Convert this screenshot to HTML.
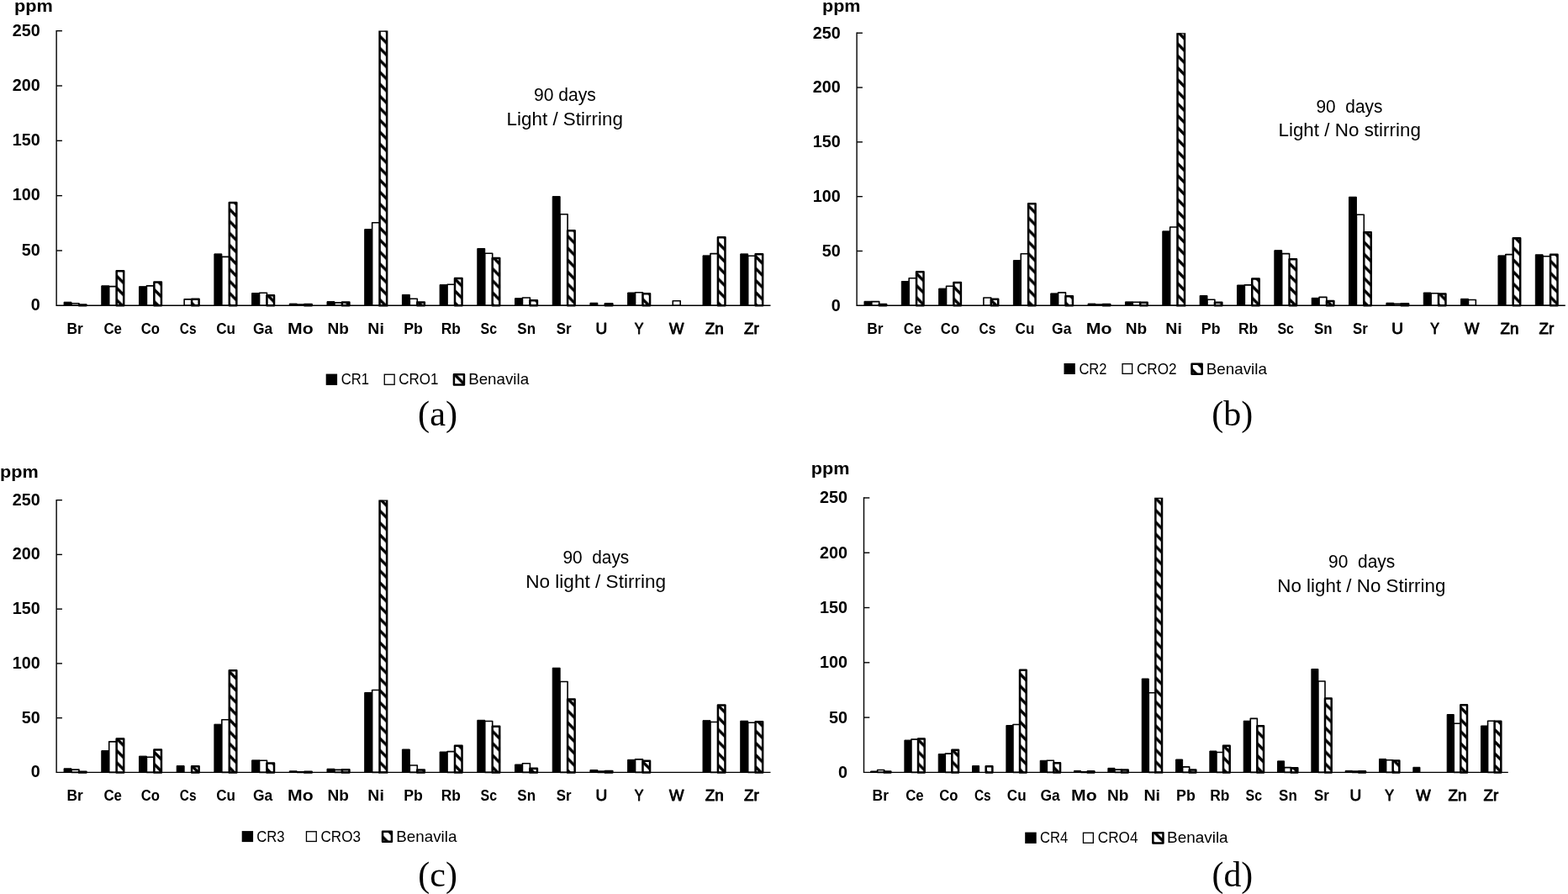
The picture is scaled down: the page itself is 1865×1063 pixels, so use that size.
<!DOCTYPE html>
<html lang="en">
<head>
<meta charset="utf-8">
<title>Trace element concentrations (ppm) after 90 days</title>
<style>
html,body{margin:0;padding:0;background:#fff;}
body{width:1865px;height:1063px;overflow:hidden;}
svg{display:block;}
text{fill:#000;white-space:pre;}
</style>
</head>
<body>
<svg width="1865" height="1063" viewBox="0 0 1865 1063">
<rect width="1865" height="1063" fill="#fff"/>
<g id="chart-a">
<defs><pattern id="ha" patternUnits="userSpaceOnUse" width="14.24" height="14.24" patternTransform="translate(0 4.3)"><rect width="14.24" height="14.24" fill="#fff"/><path d="M-15 -15L30 30M-15 -29.24L30 15.76M-15 -0.76L30 44.24" stroke="#000" stroke-width="3.5"/></pattern><clipPath id="cpa"><rect x="67.15" y="36.6" width="854.35" height="331.6"/></clipPath></defs>
<rect x="76.09" y="359.2" width="8.94" height="4.1" fill="#000" stroke="#000" stroke-width="1" stroke-linejoin="round"/>
<rect x="85.03" y="360.8" width="8.94" height="2.5" fill="#fff" stroke="#000" stroke-width="1.6" stroke-linejoin="round"/>
<rect x="93.97" y="362.45" width="8.54" height="0.85" fill="url(#ha)" stroke="#000" stroke-width="2.5" stroke-linejoin="round"/>
<rect x="120.79" y="339.8" width="8.94" height="23.5" fill="#000" stroke="#000" stroke-width="1" stroke-linejoin="round"/>
<rect x="129.73" y="340.6" width="8.94" height="22.7" fill="#fff" stroke="#000" stroke-width="1.6" stroke-linejoin="round"/>
<rect x="138.67" y="322.25" width="8.54" height="41.05" fill="url(#ha)" stroke="#000" stroke-width="2.5" stroke-linejoin="round"/>
<rect x="165.5" y="340.7" width="8.94" height="22.6" fill="#000" stroke="#000" stroke-width="1" stroke-linejoin="round"/>
<rect x="174.44" y="339.9" width="8.94" height="23.4" fill="#fff" stroke="#000" stroke-width="1.6" stroke-linejoin="round"/>
<rect x="183.38" y="335.55" width="8.54" height="27.75" fill="url(#ha)" stroke="#000" stroke-width="2.5" stroke-linejoin="round"/>
<rect x="219.14" y="355.9" width="8.94" height="7.4" fill="#fff" stroke="#000" stroke-width="1.6" stroke-linejoin="round"/>
<rect x="228.08" y="355.65" width="8.54" height="7.65" fill="url(#ha)" stroke="#000" stroke-width="2.5" stroke-linejoin="round"/>
<rect x="254.9" y="301.9" width="8.94" height="61.4" fill="#000" stroke="#000" stroke-width="1" stroke-linejoin="round"/>
<rect x="263.84" y="305.4" width="8.94" height="57.9" fill="#fff" stroke="#000" stroke-width="1.6" stroke-linejoin="round"/>
<rect x="272.78" y="241.05" width="8.54" height="122.25" fill="url(#ha)" stroke="#000" stroke-width="2.5" stroke-linejoin="round"/>
<rect x="299.6" y="348.5" width="8.94" height="14.8" fill="#000" stroke="#000" stroke-width="1" stroke-linejoin="round"/>
<rect x="308.54" y="348.3" width="8.94" height="15" fill="#fff" stroke="#000" stroke-width="1.6" stroke-linejoin="round"/>
<rect x="317.48" y="351.35" width="8.54" height="11.95" fill="url(#ha)" stroke="#000" stroke-width="2.5" stroke-linejoin="round"/>
<rect x="344.31" y="361.1" width="8.94" height="2.2" fill="#000" stroke="#000" stroke-width="1" stroke-linejoin="round"/>
<rect x="353.25" y="362.1" width="8.94" height="1.2" fill="#fff" stroke="#000" stroke-width="1.6" stroke-linejoin="round"/>
<rect x="362.19" y="362.05" width="8.54" height="1.25" fill="url(#ha)" stroke="#000" stroke-width="2.5" stroke-linejoin="round"/>
<rect x="389.01" y="358.6" width="8.94" height="4.7" fill="#000" stroke="#000" stroke-width="1" stroke-linejoin="round"/>
<rect x="397.95" y="359.9" width="8.94" height="3.4" fill="#fff" stroke="#000" stroke-width="1.6" stroke-linejoin="round"/>
<rect x="406.89" y="359.55" width="8.54" height="3.75" fill="url(#ha)" stroke="#000" stroke-width="2.5" stroke-linejoin="round"/>
<rect x="433.71" y="272.6" width="8.94" height="90.7" fill="#000" stroke="#000" stroke-width="1" stroke-linejoin="round"/>
<rect x="442.65" y="264.7" width="8.94" height="98.6" fill="#fff" stroke="#000" stroke-width="1.6" stroke-linejoin="round"/>
<rect x="451.59" y="36.6" width="8.54" height="326.7" fill="url(#ha)" stroke="#000" stroke-width="2.5" clip-path="url(#cpa)"/>
<rect x="478.41" y="350.4" width="8.94" height="12.9" fill="#000" stroke="#000" stroke-width="1" stroke-linejoin="round"/>
<rect x="487.35" y="355.3" width="8.94" height="8" fill="#fff" stroke="#000" stroke-width="1.6" stroke-linejoin="round"/>
<rect x="496.3" y="359.55" width="8.54" height="3.75" fill="url(#ha)" stroke="#000" stroke-width="2.5" stroke-linejoin="round"/>
<rect x="523.12" y="338.6" width="8.94" height="24.7" fill="#000" stroke="#000" stroke-width="1" stroke-linejoin="round"/>
<rect x="532.06" y="338.3" width="8.94" height="25" fill="#fff" stroke="#000" stroke-width="1.6" stroke-linejoin="round"/>
<rect x="541" y="330.95" width="8.54" height="32.35" fill="url(#ha)" stroke="#000" stroke-width="2.5" stroke-linejoin="round"/>
<rect x="567.82" y="295.5" width="8.94" height="67.8" fill="#000" stroke="#000" stroke-width="1" stroke-linejoin="round"/>
<rect x="576.76" y="301.3" width="8.94" height="62" fill="#fff" stroke="#000" stroke-width="1.6" stroke-linejoin="round"/>
<rect x="585.7" y="306.95" width="8.54" height="56.35" fill="url(#ha)" stroke="#000" stroke-width="2.5" stroke-linejoin="round"/>
<rect x="612.52" y="354.7" width="8.94" height="8.6" fill="#000" stroke="#000" stroke-width="1" stroke-linejoin="round"/>
<rect x="621.46" y="354" width="8.94" height="9.3" fill="#fff" stroke="#000" stroke-width="1.6" stroke-linejoin="round"/>
<rect x="630.4" y="357.35" width="8.54" height="5.95" fill="url(#ha)" stroke="#000" stroke-width="2.5" stroke-linejoin="round"/>
<rect x="657.22" y="233.6" width="8.94" height="129.7" fill="#000" stroke="#000" stroke-width="1" stroke-linejoin="round"/>
<rect x="666.17" y="254.7" width="8.94" height="108.6" fill="#fff" stroke="#000" stroke-width="1.6" stroke-linejoin="round"/>
<rect x="675.11" y="274.35" width="8.54" height="88.95" fill="url(#ha)" stroke="#000" stroke-width="2.5" stroke-linejoin="round"/>
<rect x="701.93" y="360.2" width="8.94" height="3.1" fill="#000" stroke="#000" stroke-width="1" stroke-linejoin="round"/>
<rect x="719.81" y="361.15" width="8.54" height="2.15" fill="url(#ha)" stroke="#000" stroke-width="2.5" stroke-linejoin="round"/>
<rect x="746.63" y="348" width="8.94" height="15.3" fill="#000" stroke="#000" stroke-width="1" stroke-linejoin="round"/>
<rect x="755.57" y="347.7" width="8.94" height="15.6" fill="#fff" stroke="#000" stroke-width="1.6" stroke-linejoin="round"/>
<rect x="764.51" y="349.25" width="8.54" height="14.05" fill="url(#ha)" stroke="#000" stroke-width="2.5" stroke-linejoin="round"/>
<rect x="800.27" y="357.8" width="8.94" height="5.5" fill="#fff" stroke="#000" stroke-width="1.6" stroke-linejoin="round"/>
<rect x="836.04" y="303.9" width="8.94" height="59.4" fill="#000" stroke="#000" stroke-width="1" stroke-linejoin="round"/>
<rect x="844.98" y="301.6" width="8.94" height="61.7" fill="#fff" stroke="#000" stroke-width="1.6" stroke-linejoin="round"/>
<rect x="853.92" y="282.25" width="8.54" height="81.05" fill="url(#ha)" stroke="#000" stroke-width="2.5" stroke-linejoin="round"/>
<rect x="880.74" y="301.9" width="8.94" height="61.4" fill="#000" stroke="#000" stroke-width="1" stroke-linejoin="round"/>
<rect x="889.68" y="304.2" width="8.94" height="59.1" fill="#fff" stroke="#000" stroke-width="1.6" stroke-linejoin="round"/>
<rect x="898.62" y="302.25" width="8.54" height="61.05" fill="url(#ha)" stroke="#000" stroke-width="2.5" stroke-linejoin="round"/>
<path d="M67.15 36 V363.3 H916.5" fill="none" stroke="#000" stroke-width="1.4"/>
<path d="M67.15 297.98 h6.8" stroke="#000" stroke-width="1.4"/>
<path d="M67.15 232.66 h6.8" stroke="#000" stroke-width="1.4"/>
<path d="M67.15 167.34 h6.8" stroke="#000" stroke-width="1.4"/>
<path d="M67.15 102.02 h6.8" stroke="#000" stroke-width="1.4"/>
<path d="M67.15 36.7 h6.8" stroke="#000" stroke-width="1.4"/>
</g>
<rect x="387.7" y="444.6" width="13.4" height="13.3" fill="#000"/>
<rect x="457.27" y="445.27" width="11.87" height="11.97" fill="#fff" stroke="#000" stroke-width="1.33"/>
<rect x="539.95" y="445.15" width="12" height="12.4" fill="url(#ha)" stroke="#000" stroke-width="2.5" stroke-linejoin="round"/>
<g id="chart-b">
<defs><pattern id="hb" patternUnits="userSpaceOnUse" width="14.24" height="14.24" patternTransform="translate(0 4.2)"><rect width="14.24" height="14.24" fill="#fff"/><path d="M-15 -15L30 30M-15 -29.24L30 15.76M-15 -0.76L30 44.24" stroke="#000" stroke-width="3.5"/></pattern><clipPath id="cpb"><rect x="1019.1" y="39.15" width="847.7" height="329.05"/></clipPath></defs>
<rect x="1027.97" y="358.3" width="8.87" height="5" fill="#000" stroke="#000" stroke-width="1" stroke-linejoin="round"/>
<rect x="1036.84" y="358.6" width="8.87" height="4.7" fill="#fff" stroke="#000" stroke-width="1.6" stroke-linejoin="round"/>
<rect x="1045.71" y="362.05" width="8.47" height="1.25" fill="url(#hb)" stroke="#000" stroke-width="2.5" stroke-linejoin="round"/>
<rect x="1072.32" y="334.5" width="8.87" height="28.8" fill="#000" stroke="#000" stroke-width="1" stroke-linejoin="round"/>
<rect x="1081.19" y="330.8" width="8.87" height="32.5" fill="#fff" stroke="#000" stroke-width="1.6" stroke-linejoin="round"/>
<rect x="1090.06" y="323.25" width="8.47" height="40.05" fill="url(#hb)" stroke="#000" stroke-width="2.5" stroke-linejoin="round"/>
<rect x="1116.68" y="343.1" width="8.87" height="20.2" fill="#000" stroke="#000" stroke-width="1" stroke-linejoin="round"/>
<rect x="1125.55" y="340.2" width="8.87" height="23.1" fill="#fff" stroke="#000" stroke-width="1.6" stroke-linejoin="round"/>
<rect x="1134.42" y="336.05" width="8.47" height="27.25" fill="url(#hb)" stroke="#000" stroke-width="2.5" stroke-linejoin="round"/>
<rect x="1169.9" y="354" width="8.87" height="9.3" fill="#fff" stroke="#000" stroke-width="1.6" stroke-linejoin="round"/>
<rect x="1178.77" y="355.85" width="8.47" height="7.45" fill="url(#hb)" stroke="#000" stroke-width="2.5" stroke-linejoin="round"/>
<rect x="1205.38" y="309.6" width="8.87" height="53.7" fill="#000" stroke="#000" stroke-width="1" stroke-linejoin="round"/>
<rect x="1214.25" y="301.7" width="8.87" height="61.6" fill="#fff" stroke="#000" stroke-width="1.6" stroke-linejoin="round"/>
<rect x="1223.12" y="242.15" width="8.47" height="121.15" fill="url(#hb)" stroke="#000" stroke-width="2.5" stroke-linejoin="round"/>
<rect x="1249.73" y="348.9" width="8.87" height="14.4" fill="#000" stroke="#000" stroke-width="1" stroke-linejoin="round"/>
<rect x="1258.6" y="347.9" width="8.87" height="15.4" fill="#fff" stroke="#000" stroke-width="1.6" stroke-linejoin="round"/>
<rect x="1267.47" y="352.15" width="8.47" height="11.15" fill="url(#hb)" stroke="#000" stroke-width="2.5" stroke-linejoin="round"/>
<rect x="1294.09" y="361.1" width="8.87" height="2.2" fill="#000" stroke="#000" stroke-width="1" stroke-linejoin="round"/>
<rect x="1302.96" y="362.1" width="8.87" height="1.2" fill="#fff" stroke="#000" stroke-width="1.6" stroke-linejoin="round"/>
<rect x="1311.83" y="362.05" width="8.47" height="1.25" fill="url(#hb)" stroke="#000" stroke-width="2.5" stroke-linejoin="round"/>
<rect x="1338.44" y="358.9" width="8.87" height="4.4" fill="#000" stroke="#000" stroke-width="1" stroke-linejoin="round"/>
<rect x="1347.31" y="359.2" width="8.87" height="4.1" fill="#fff" stroke="#000" stroke-width="1.6" stroke-linejoin="round"/>
<rect x="1356.18" y="359.85" width="8.47" height="3.45" fill="url(#hb)" stroke="#000" stroke-width="2.5" stroke-linejoin="round"/>
<rect x="1382.79" y="274.9" width="8.87" height="88.4" fill="#000" stroke="#000" stroke-width="1" stroke-linejoin="round"/>
<rect x="1391.66" y="270" width="8.87" height="93.3" fill="#fff" stroke="#000" stroke-width="1.6" stroke-linejoin="round"/>
<rect x="1400.53" y="39.15" width="8.47" height="324.15" fill="url(#hb)" stroke="#000" stroke-width="2.5" clip-path="url(#cpb)"/>
<rect x="1427.14" y="351.5" width="8.87" height="11.8" fill="#000" stroke="#000" stroke-width="1" stroke-linejoin="round"/>
<rect x="1436.01" y="356.3" width="8.87" height="7" fill="#fff" stroke="#000" stroke-width="1.6" stroke-linejoin="round"/>
<rect x="1444.89" y="359.85" width="8.47" height="3.45" fill="url(#hb)" stroke="#000" stroke-width="2.5" stroke-linejoin="round"/>
<rect x="1471.5" y="339" width="8.87" height="24.3" fill="#000" stroke="#000" stroke-width="1" stroke-linejoin="round"/>
<rect x="1480.37" y="338.9" width="8.87" height="24.4" fill="#fff" stroke="#000" stroke-width="1.6" stroke-linejoin="round"/>
<rect x="1489.24" y="331.45" width="8.47" height="31.85" fill="url(#hb)" stroke="#000" stroke-width="2.5" stroke-linejoin="round"/>
<rect x="1515.85" y="297.7" width="8.87" height="65.6" fill="#000" stroke="#000" stroke-width="1" stroke-linejoin="round"/>
<rect x="1524.72" y="301.6" width="8.87" height="61.7" fill="#fff" stroke="#000" stroke-width="1.6" stroke-linejoin="round"/>
<rect x="1533.59" y="308.25" width="8.47" height="55.05" fill="url(#hb)" stroke="#000" stroke-width="2.5" stroke-linejoin="round"/>
<rect x="1560.2" y="354.3" width="8.87" height="9" fill="#000" stroke="#000" stroke-width="1" stroke-linejoin="round"/>
<rect x="1569.07" y="353.4" width="8.87" height="9.9" fill="#fff" stroke="#000" stroke-width="1.6" stroke-linejoin="round"/>
<rect x="1577.94" y="357.95" width="8.47" height="5.35" fill="url(#hb)" stroke="#000" stroke-width="2.5" stroke-linejoin="round"/>
<rect x="1604.55" y="234.2" width="8.87" height="129.1" fill="#000" stroke="#000" stroke-width="1" stroke-linejoin="round"/>
<rect x="1613.43" y="255.2" width="8.87" height="108.1" fill="#fff" stroke="#000" stroke-width="1.6" stroke-linejoin="round"/>
<rect x="1622.3" y="276.15" width="8.47" height="87.15" fill="url(#hb)" stroke="#000" stroke-width="2.5" stroke-linejoin="round"/>
<rect x="1648.91" y="360.2" width="8.87" height="3.1" fill="#000" stroke="#000" stroke-width="1" stroke-linejoin="round"/>
<rect x="1657.78" y="361.3" width="8.87" height="2" fill="#fff" stroke="#000" stroke-width="1.6" stroke-linejoin="round"/>
<rect x="1666.65" y="361.15" width="8.47" height="2.15" fill="url(#hb)" stroke="#000" stroke-width="2.5" stroke-linejoin="round"/>
<rect x="1693.26" y="348" width="8.87" height="15.3" fill="#000" stroke="#000" stroke-width="1" stroke-linejoin="round"/>
<rect x="1702.13" y="348.8" width="8.87" height="14.5" fill="#fff" stroke="#000" stroke-width="1.6" stroke-linejoin="round"/>
<rect x="1711" y="349.45" width="8.47" height="13.85" fill="url(#hb)" stroke="#000" stroke-width="2.5" stroke-linejoin="round"/>
<rect x="1737.61" y="355.3" width="8.87" height="8" fill="#000" stroke="#000" stroke-width="1" stroke-linejoin="round"/>
<rect x="1746.48" y="356.5" width="8.87" height="6.8" fill="#fff" stroke="#000" stroke-width="1.6" stroke-linejoin="round"/>
<rect x="1781.97" y="303.9" width="8.87" height="59.4" fill="#000" stroke="#000" stroke-width="1" stroke-linejoin="round"/>
<rect x="1790.84" y="302.6" width="8.87" height="60.7" fill="#fff" stroke="#000" stroke-width="1.6" stroke-linejoin="round"/>
<rect x="1799.71" y="283.15" width="8.47" height="80.15" fill="url(#hb)" stroke="#000" stroke-width="2.5" stroke-linejoin="round"/>
<rect x="1826.32" y="302.8" width="8.87" height="60.5" fill="#000" stroke="#000" stroke-width="1" stroke-linejoin="round"/>
<rect x="1835.19" y="304.8" width="8.87" height="58.5" fill="#fff" stroke="#000" stroke-width="1.6" stroke-linejoin="round"/>
<rect x="1844.06" y="302.85" width="8.47" height="60.45" fill="url(#hb)" stroke="#000" stroke-width="2.5" stroke-linejoin="round"/>
<path d="M1019.1 38.55 V363.3 H1861.8" fill="none" stroke="#000" stroke-width="1.4"/>
<path d="M1019.1 298.49 h6.8" stroke="#000" stroke-width="1.4"/>
<path d="M1019.1 233.68 h6.8" stroke="#000" stroke-width="1.4"/>
<path d="M1019.1 168.87 h6.8" stroke="#000" stroke-width="1.4"/>
<path d="M1019.1 104.06 h6.8" stroke="#000" stroke-width="1.4"/>
<path d="M1019.1 39.25 h6.8" stroke="#000" stroke-width="1.4"/>
</g>
<rect x="1265.5" y="432" width="13.3" height="13" fill="#000"/>
<rect x="1335.07" y="432.67" width="11.57" height="11.67" fill="#fff" stroke="#000" stroke-width="1.33"/>
<rect x="1417.55" y="432.65" width="12.1" height="12" fill="url(#hb)" stroke="#000" stroke-width="2.5" stroke-linejoin="round"/>
<g id="chart-c">
<defs><pattern id="hc" patternUnits="userSpaceOnUse" width="14.24" height="14.24" patternTransform="translate(0 13.2)"><rect width="14.24" height="14.24" fill="#fff"/><path d="M-15 -15L30 30M-15 -29.24L30 15.76M-15 -0.76L30 44.24" stroke="#000" stroke-width="3.5"/></pattern><clipPath id="cpc"><rect x="67.15" y="594.55" width="854.35" height="328.75"/></clipPath></defs>
<rect x="76.09" y="913.8" width="8.94" height="4.6" fill="#000" stroke="#000" stroke-width="1" stroke-linejoin="round"/>
<rect x="85.03" y="915.1" width="8.94" height="3.3" fill="#fff" stroke="#000" stroke-width="1.6" stroke-linejoin="round"/>
<rect x="93.97" y="917.75" width="8.54" height="0.65" fill="url(#hc)" stroke="#000" stroke-width="2.5" stroke-linejoin="round"/>
<rect x="120.79" y="892.6" width="8.94" height="25.8" fill="#000" stroke="#000" stroke-width="1" stroke-linejoin="round"/>
<rect x="129.73" y="881.9" width="8.94" height="36.5" fill="#fff" stroke="#000" stroke-width="1.6" stroke-linejoin="round"/>
<rect x="138.67" y="878.45" width="8.54" height="39.95" fill="url(#hc)" stroke="#000" stroke-width="2.5" stroke-linejoin="round"/>
<rect x="165.5" y="899.1" width="8.94" height="19.3" fill="#000" stroke="#000" stroke-width="1" stroke-linejoin="round"/>
<rect x="174.44" y="900.3" width="8.94" height="18.1" fill="#fff" stroke="#000" stroke-width="1.6" stroke-linejoin="round"/>
<rect x="183.38" y="891.55" width="8.54" height="26.85" fill="url(#hc)" stroke="#000" stroke-width="2.5" stroke-linejoin="round"/>
<rect x="210.2" y="910.6" width="8.94" height="7.8" fill="#000" stroke="#000" stroke-width="1" stroke-linejoin="round"/>
<rect x="228.08" y="911.25" width="8.54" height="7.15" fill="url(#hc)" stroke="#000" stroke-width="2.5" stroke-linejoin="round"/>
<rect x="254.9" y="861.2" width="8.94" height="57.2" fill="#000" stroke="#000" stroke-width="1" stroke-linejoin="round"/>
<rect x="263.84" y="855.7" width="8.94" height="62.7" fill="#fff" stroke="#000" stroke-width="1.6" stroke-linejoin="round"/>
<rect x="272.78" y="797.35" width="8.54" height="121.05" fill="url(#hc)" stroke="#000" stroke-width="2.5" stroke-linejoin="round"/>
<rect x="299.6" y="903.9" width="8.94" height="14.5" fill="#000" stroke="#000" stroke-width="1" stroke-linejoin="round"/>
<rect x="308.54" y="904.2" width="8.94" height="14.2" fill="#fff" stroke="#000" stroke-width="1.6" stroke-linejoin="round"/>
<rect x="317.48" y="907.45" width="8.54" height="10.95" fill="url(#hc)" stroke="#000" stroke-width="2.5" stroke-linejoin="round"/>
<rect x="344.31" y="916.8" width="8.94" height="1.6" fill="#000" stroke="#000" stroke-width="1" stroke-linejoin="round"/>
<rect x="353.25" y="917.7" width="8.94" height="0.7" fill="#fff" stroke="#000" stroke-width="1.6" stroke-linejoin="round"/>
<rect x="362.19" y="917.75" width="8.54" height="0.65" fill="url(#hc)" stroke="#000" stroke-width="2.5" stroke-linejoin="round"/>
<rect x="389.01" y="914.2" width="8.94" height="4.2" fill="#000" stroke="#000" stroke-width="1" stroke-linejoin="round"/>
<rect x="397.95" y="915.4" width="8.94" height="3" fill="#fff" stroke="#000" stroke-width="1.6" stroke-linejoin="round"/>
<rect x="406.89" y="915.15" width="8.54" height="3.25" fill="url(#hc)" stroke="#000" stroke-width="2.5" stroke-linejoin="round"/>
<rect x="433.71" y="823.5" width="8.94" height="94.9" fill="#000" stroke="#000" stroke-width="1" stroke-linejoin="round"/>
<rect x="442.65" y="820.5" width="8.94" height="97.9" fill="#fff" stroke="#000" stroke-width="1.6" stroke-linejoin="round"/>
<rect x="451.59" y="594.55" width="8.54" height="323.85" fill="url(#hc)" stroke="#000" stroke-width="2.5" clip-path="url(#cpc)"/>
<rect x="478.41" y="891" width="8.94" height="27.4" fill="#000" stroke="#000" stroke-width="1" stroke-linejoin="round"/>
<rect x="487.35" y="910" width="8.94" height="8.4" fill="#fff" stroke="#000" stroke-width="1.6" stroke-linejoin="round"/>
<rect x="496.3" y="915.55" width="8.54" height="2.85" fill="url(#hc)" stroke="#000" stroke-width="2.5" stroke-linejoin="round"/>
<rect x="523.12" y="894" width="8.94" height="24.4" fill="#000" stroke="#000" stroke-width="1" stroke-linejoin="round"/>
<rect x="532.06" y="893.6" width="8.94" height="24.8" fill="#fff" stroke="#000" stroke-width="1.6" stroke-linejoin="round"/>
<rect x="541" y="886.85" width="8.54" height="31.55" fill="url(#hc)" stroke="#000" stroke-width="2.5" stroke-linejoin="round"/>
<rect x="567.82" y="856.3" width="8.94" height="62.1" fill="#000" stroke="#000" stroke-width="1" stroke-linejoin="round"/>
<rect x="576.76" y="857.5" width="8.94" height="60.9" fill="#fff" stroke="#000" stroke-width="1.6" stroke-linejoin="round"/>
<rect x="585.7" y="863.65" width="8.54" height="54.75" fill="url(#hc)" stroke="#000" stroke-width="2.5" stroke-linejoin="round"/>
<rect x="612.52" y="909" width="8.94" height="9.4" fill="#000" stroke="#000" stroke-width="1" stroke-linejoin="round"/>
<rect x="621.46" y="907.8" width="8.94" height="10.6" fill="#fff" stroke="#000" stroke-width="1.6" stroke-linejoin="round"/>
<rect x="630.4" y="913.65" width="8.54" height="4.75" fill="url(#hc)" stroke="#000" stroke-width="2.5" stroke-linejoin="round"/>
<rect x="657.22" y="794.2" width="8.94" height="124.2" fill="#000" stroke="#000" stroke-width="1" stroke-linejoin="round"/>
<rect x="666.17" y="810.5" width="8.94" height="107.9" fill="#fff" stroke="#000" stroke-width="1.6" stroke-linejoin="round"/>
<rect x="675.11" y="831.45" width="8.54" height="86.95" fill="url(#hc)" stroke="#000" stroke-width="2.5" stroke-linejoin="round"/>
<rect x="701.93" y="915.5" width="8.94" height="2.9" fill="#000" stroke="#000" stroke-width="1" stroke-linejoin="round"/>
<rect x="710.87" y="917.1" width="8.94" height="1.3" fill="#fff" stroke="#000" stroke-width="1.6" stroke-linejoin="round"/>
<rect x="719.81" y="917.05" width="8.54" height="1.35" fill="url(#hc)" stroke="#000" stroke-width="2.5" stroke-linejoin="round"/>
<rect x="746.63" y="903.3" width="8.94" height="15.1" fill="#000" stroke="#000" stroke-width="1" stroke-linejoin="round"/>
<rect x="755.57" y="902.9" width="8.94" height="15.5" fill="#fff" stroke="#000" stroke-width="1.6" stroke-linejoin="round"/>
<rect x="764.51" y="904.85" width="8.54" height="13.55" fill="url(#hc)" stroke="#000" stroke-width="2.5" stroke-linejoin="round"/>
<rect x="836.04" y="856.7" width="8.94" height="61.7" fill="#000" stroke="#000" stroke-width="1" stroke-linejoin="round"/>
<rect x="844.98" y="858.5" width="8.94" height="59.9" fill="#fff" stroke="#000" stroke-width="1.6" stroke-linejoin="round"/>
<rect x="853.92" y="838.55" width="8.54" height="79.85" fill="url(#hc)" stroke="#000" stroke-width="2.5" stroke-linejoin="round"/>
<rect x="880.74" y="857.2" width="8.94" height="61.2" fill="#000" stroke="#000" stroke-width="1" stroke-linejoin="round"/>
<rect x="889.68" y="859.2" width="8.94" height="59.2" fill="#fff" stroke="#000" stroke-width="1.6" stroke-linejoin="round"/>
<rect x="898.62" y="858.15" width="8.54" height="60.25" fill="url(#hc)" stroke="#000" stroke-width="2.5" stroke-linejoin="round"/>
<path d="M67.15 593.95 V918.4 H916.5" fill="none" stroke="#000" stroke-width="1.4"/>
<path d="M67.15 853.65 h6.8" stroke="#000" stroke-width="1.4"/>
<path d="M67.15 788.9 h6.8" stroke="#000" stroke-width="1.4"/>
<path d="M67.15 724.15 h6.8" stroke="#000" stroke-width="1.4"/>
<path d="M67.15 659.4 h6.8" stroke="#000" stroke-width="1.4"/>
<path d="M67.15 594.65 h6.8" stroke="#000" stroke-width="1.4"/>
</g>
<rect x="287.7" y="988.1" width="13.4" height="13" fill="#000"/>
<rect x="364.47" y="988.77" width="11.77" height="11.67" fill="#fff" stroke="#000" stroke-width="1.33"/>
<rect x="455.05" y="988.75" width="10.9" height="11.9" fill="url(#hc)" stroke="#000" stroke-width="2.5" stroke-linejoin="round"/>
<g id="chart-d">
<defs><pattern id="hd" patternUnits="userSpaceOnUse" width="14.24" height="14.24" patternTransform="translate(0 1.1)"><rect width="14.24" height="14.24" fill="#fff"/><path d="M-15 -15L30 30M-15 -29.24L30 15.76M-15 -0.76L30 44.24" stroke="#000" stroke-width="3.5"/></pattern><clipPath id="cpd"><rect x="1027.5" y="591.87" width="771.3" height="331.43"/></clipPath></defs>
<rect x="1035.57" y="917" width="8.07" height="1.4" fill="#000" stroke="#000" stroke-width="1" stroke-linejoin="round"/>
<rect x="1043.63" y="915.5" width="8.07" height="2.9" fill="#fff" stroke="#000" stroke-width="1.6" stroke-linejoin="round"/>
<rect x="1051.7" y="917.45" width="7.67" height="0.95" fill="url(#hd)" stroke="#000" stroke-width="2.5" stroke-linejoin="round"/>
<rect x="1075.9" y="880.1" width="8.07" height="38.3" fill="#000" stroke="#000" stroke-width="1" stroke-linejoin="round"/>
<rect x="1083.96" y="879.1" width="8.07" height="39.3" fill="#fff" stroke="#000" stroke-width="1.6" stroke-linejoin="round"/>
<rect x="1092.03" y="878.45" width="7.67" height="39.95" fill="url(#hd)" stroke="#000" stroke-width="2.5" stroke-linejoin="round"/>
<rect x="1116.23" y="896.6" width="8.07" height="21.8" fill="#000" stroke="#000" stroke-width="1" stroke-linejoin="round"/>
<rect x="1124.3" y="896.1" width="8.07" height="22.3" fill="#fff" stroke="#000" stroke-width="1.6" stroke-linejoin="round"/>
<rect x="1132.36" y="891.75" width="7.67" height="26.65" fill="url(#hd)" stroke="#000" stroke-width="2.5" stroke-linejoin="round"/>
<rect x="1156.56" y="910.6" width="8.07" height="7.8" fill="#000" stroke="#000" stroke-width="1" stroke-linejoin="round"/>
<rect x="1172.69" y="911.25" width="7.67" height="7.15" fill="url(#hd)" stroke="#000" stroke-width="2.5" stroke-linejoin="round"/>
<rect x="1196.89" y="862.5" width="8.07" height="55.9" fill="#000" stroke="#000" stroke-width="1" stroke-linejoin="round"/>
<rect x="1204.96" y="861.5" width="8.07" height="56.9" fill="#fff" stroke="#000" stroke-width="1.6" stroke-linejoin="round"/>
<rect x="1213.03" y="796.75" width="7.67" height="121.65" fill="url(#hd)" stroke="#000" stroke-width="2.5" stroke-linejoin="round"/>
<rect x="1237.22" y="904.3" width="8.07" height="14.1" fill="#000" stroke="#000" stroke-width="1" stroke-linejoin="round"/>
<rect x="1245.29" y="904.2" width="8.07" height="14.2" fill="#fff" stroke="#000" stroke-width="1.6" stroke-linejoin="round"/>
<rect x="1253.36" y="907.25" width="7.67" height="11.15" fill="url(#hd)" stroke="#000" stroke-width="2.5" stroke-linejoin="round"/>
<rect x="1277.56" y="916.4" width="8.07" height="2" fill="#000" stroke="#000" stroke-width="1" stroke-linejoin="round"/>
<rect x="1285.62" y="917.7" width="8.07" height="0.7" fill="#fff" stroke="#000" stroke-width="1.6" stroke-linejoin="round"/>
<rect x="1293.69" y="917.35" width="7.67" height="1.05" fill="url(#hd)" stroke="#000" stroke-width="2.5" stroke-linejoin="round"/>
<rect x="1317.89" y="913.3" width="8.07" height="5.1" fill="#000" stroke="#000" stroke-width="1" stroke-linejoin="round"/>
<rect x="1325.95" y="915.1" width="8.07" height="3.3" fill="#fff" stroke="#000" stroke-width="1.6" stroke-linejoin="round"/>
<rect x="1334.02" y="915.45" width="7.67" height="2.95" fill="url(#hd)" stroke="#000" stroke-width="2.5" stroke-linejoin="round"/>
<rect x="1358.22" y="807" width="8.07" height="111.4" fill="#000" stroke="#000" stroke-width="1" stroke-linejoin="round"/>
<rect x="1366.29" y="823.8" width="8.07" height="94.6" fill="#fff" stroke="#000" stroke-width="1.6" stroke-linejoin="round"/>
<rect x="1374.35" y="591.87" width="7.67" height="326.53" fill="url(#hd)" stroke="#000" stroke-width="2.5" clip-path="url(#cpd)"/>
<rect x="1398.55" y="903" width="8.07" height="15.4" fill="#000" stroke="#000" stroke-width="1" stroke-linejoin="round"/>
<rect x="1406.62" y="911.9" width="8.07" height="6.5" fill="#fff" stroke="#000" stroke-width="1.6" stroke-linejoin="round"/>
<rect x="1414.68" y="915.45" width="7.67" height="2.95" fill="url(#hd)" stroke="#000" stroke-width="2.5" stroke-linejoin="round"/>
<rect x="1438.88" y="893" width="8.07" height="25.4" fill="#000" stroke="#000" stroke-width="1" stroke-linejoin="round"/>
<rect x="1446.95" y="894.5" width="8.07" height="23.9" fill="#fff" stroke="#000" stroke-width="1.6" stroke-linejoin="round"/>
<rect x="1455.01" y="886.85" width="7.67" height="31.55" fill="url(#hd)" stroke="#000" stroke-width="2.5" stroke-linejoin="round"/>
<rect x="1479.21" y="857.2" width="8.07" height="61.2" fill="#000" stroke="#000" stroke-width="1" stroke-linejoin="round"/>
<rect x="1487.28" y="854.4" width="8.07" height="64" fill="#fff" stroke="#000" stroke-width="1.6" stroke-linejoin="round"/>
<rect x="1495.35" y="863.25" width="7.67" height="55.15" fill="url(#hd)" stroke="#000" stroke-width="2.5" stroke-linejoin="round"/>
<rect x="1519.55" y="904.9" width="8.07" height="13.5" fill="#000" stroke="#000" stroke-width="1" stroke-linejoin="round"/>
<rect x="1527.61" y="912.6" width="8.07" height="5.8" fill="#fff" stroke="#000" stroke-width="1.6" stroke-linejoin="round"/>
<rect x="1535.68" y="913.25" width="7.67" height="5.15" fill="url(#hd)" stroke="#000" stroke-width="2.5" stroke-linejoin="round"/>
<rect x="1559.88" y="795.5" width="8.07" height="122.9" fill="#000" stroke="#000" stroke-width="1" stroke-linejoin="round"/>
<rect x="1567.94" y="810" width="8.07" height="108.4" fill="#fff" stroke="#000" stroke-width="1.6" stroke-linejoin="round"/>
<rect x="1576.01" y="830.45" width="7.67" height="87.95" fill="url(#hd)" stroke="#000" stroke-width="2.5" stroke-linejoin="round"/>
<rect x="1600.21" y="916.4" width="8.07" height="2" fill="#000" stroke="#000" stroke-width="1" stroke-linejoin="round"/>
<rect x="1608.27" y="917.1" width="8.07" height="1.3" fill="#fff" stroke="#000" stroke-width="1.6" stroke-linejoin="round"/>
<rect x="1616.34" y="917.35" width="7.67" height="1.05" fill="url(#hd)" stroke="#000" stroke-width="2.5" stroke-linejoin="round"/>
<rect x="1640.54" y="902.4" width="8.07" height="16" fill="#000" stroke="#000" stroke-width="1" stroke-linejoin="round"/>
<rect x="1648.61" y="903.8" width="8.07" height="14.6" fill="#fff" stroke="#000" stroke-width="1.6" stroke-linejoin="round"/>
<rect x="1656.67" y="904.45" width="7.67" height="13.95" fill="url(#hd)" stroke="#000" stroke-width="2.5" stroke-linejoin="round"/>
<rect x="1680.87" y="912.3" width="8.07" height="6.1" fill="#000" stroke="#000" stroke-width="1" stroke-linejoin="round"/>
<rect x="1721.2" y="849.5" width="8.07" height="68.9" fill="#000" stroke="#000" stroke-width="1" stroke-linejoin="round"/>
<rect x="1729.27" y="860.2" width="8.07" height="58.2" fill="#fff" stroke="#000" stroke-width="1.6" stroke-linejoin="round"/>
<rect x="1737.34" y="838.15" width="7.67" height="80.25" fill="url(#hd)" stroke="#000" stroke-width="2.5" stroke-linejoin="round"/>
<rect x="1761.53" y="863" width="8.07" height="55.4" fill="#000" stroke="#000" stroke-width="1" stroke-linejoin="round"/>
<rect x="1769.6" y="857.2" width="8.07" height="61.2" fill="#fff" stroke="#000" stroke-width="1.6" stroke-linejoin="round"/>
<rect x="1777.67" y="857.85" width="7.67" height="60.55" fill="url(#hd)" stroke="#000" stroke-width="2.5" stroke-linejoin="round"/>
<path d="M1027.5 591.27 V918.4 H1793.8" fill="none" stroke="#000" stroke-width="1.4"/>
<path d="M1027.5 853.11 h6.8" stroke="#000" stroke-width="1.4"/>
<path d="M1027.5 787.83 h6.8" stroke="#000" stroke-width="1.4"/>
<path d="M1027.5 722.54 h6.8" stroke="#000" stroke-width="1.4"/>
<path d="M1027.5 657.26 h6.8" stroke="#000" stroke-width="1.4"/>
<path d="M1027.5 591.97 h6.8" stroke="#000" stroke-width="1.4"/>
</g>
<rect x="1219.2" y="989.6" width="13.5" height="13.3" fill="#000"/>
<rect x="1288.47" y="990.27" width="11.87" height="11.97" fill="#fff" stroke="#000" stroke-width="1.33"/>
<rect x="1371.35" y="990.25" width="12.1" height="12.2" fill="url(#hd)" stroke="#000" stroke-width="2.5" stroke-linejoin="round"/>
<text transform="translate(36.75 369.1) scale(1.0232 1)" font-family="'Liberation Sans', sans-serif" font-size="19.34" font-weight="700">0</text>
<text transform="translate(25.74 303.78) scale(1.0232 1)" font-family="'Liberation Sans', sans-serif" font-size="19.34" font-weight="700">50</text>
<text transform="translate(14.73 238.46) scale(1.0232 1)" font-family="'Liberation Sans', sans-serif" font-size="19.34" font-weight="700">100</text>
<text transform="translate(14.73 173.14) scale(1.0232 1)" font-family="'Liberation Sans', sans-serif" font-size="19.34" font-weight="700">150</text>
<text transform="translate(14.73 107.82) scale(1.0232 1)" font-family="'Liberation Sans', sans-serif" font-size="19.34" font-weight="700">200</text>
<text transform="translate(14.73 42.5) scale(1.0232 1)" font-family="'Liberation Sans', sans-serif" font-size="19.34" font-weight="700">250</text>
<text transform="translate(16.94 14.4) scale(1.0595 1)" font-family="'Liberation Sans', sans-serif" font-size="20.52" font-weight="700">ppm</text>
<text transform="translate(79.41 397) scale(0.9338 1)" font-family="'Liberation Sans', sans-serif" font-size="18.63" font-weight="700">Br</text>
<text transform="translate(123.38 397) scale(0.9047 1)" font-family="'Liberation Sans', sans-serif" font-size="18.63" font-weight="700">Ce</text>
<text transform="translate(167.78 397) scale(0.8966 1)" font-family="'Liberation Sans', sans-serif" font-size="18.63" font-weight="700">Co</text>
<text transform="translate(213.83 397) scale(0.8274 1)" font-family="'Liberation Sans', sans-serif" font-size="18.63" font-weight="700">Cs</text>
<text transform="translate(257.18 397) scale(0.9193 1)" font-family="'Liberation Sans', sans-serif" font-size="18.63" font-weight="700">Cu</text>
<text transform="translate(301.07 397) scale(0.9348 1)" font-family="'Liberation Sans', sans-serif" font-size="18.63" font-weight="700">Ga</text>
<text transform="translate(342.09 397) scale(1.1382 1)" font-family="'Liberation Sans', sans-serif" font-size="18.63" font-weight="700">Mo</text>
<text transform="translate(389.43 397) scale(1.0234 1)" font-family="'Liberation Sans', sans-serif" font-size="18.63" font-weight="700">Nb</text>
<text transform="translate(437.36 397) scale(1.0449 1)" font-family="'Liberation Sans', sans-serif" font-size="18.63" font-weight="700">Ni</text>
<text transform="translate(480.22 397) scale(0.9531 1)" font-family="'Liberation Sans', sans-serif" font-size="18.63" font-weight="700">Pb</text>
<text transform="translate(524.69 397) scale(0.9323 1)" font-family="'Liberation Sans', sans-serif" font-size="18.63" font-weight="700">Rb</text>
<text transform="translate(571.53 397) scale(0.8578 1)" font-family="'Liberation Sans', sans-serif" font-size="18.63" font-weight="700">Sc</text>
<text transform="translate(615.37 397) scale(0.9109 1)" font-family="'Liberation Sans', sans-serif" font-size="18.63" font-weight="700">Sn</text>
<text transform="translate(661.72 397) scale(0.9047 1)" font-family="'Liberation Sans', sans-serif" font-size="18.63" font-weight="700">Sr</text>
<text transform="translate(708.5 397) scale(1.0215 1)" font-family="'Liberation Sans', sans-serif" font-size="18.63" font-weight="400" stroke="#000" stroke-width="0.9" stroke-linejoin="round">U</text>
<text transform="translate(754.64 397) scale(0.8630 1)" font-family="'Liberation Sans', sans-serif" font-size="18.63" font-weight="400" stroke="#000" stroke-width="0.9" stroke-linejoin="round">Y</text>
<text transform="translate(795.94 397) scale(0.9911 1)" font-family="'Liberation Sans', sans-serif" font-size="18.63" font-weight="400" stroke="#000" stroke-width="0.9" stroke-linejoin="round">W</text>
<text transform="translate(838.71 397) scale(1.0092 1)" font-family="'Liberation Sans', sans-serif" font-size="18.63" font-weight="400" stroke="#000" stroke-width="0.9" stroke-linejoin="round">Zn</text>
<text transform="translate(885.01 397) scale(1.0111 1)" font-family="'Liberation Sans', sans-serif" font-size="18.63" font-weight="400" stroke="#000" stroke-width="0.9" stroke-linejoin="round">Zr</text>
<text transform="translate(634.91 119.8) scale(0.9640 1)" font-family="'Liberation Sans', sans-serif" font-size="21.9" font-weight="400">90 days</text>
<text transform="translate(602.55 148.8) scale(1.0243 1)" font-family="'Liberation Sans', sans-serif" font-size="21.9" font-weight="400">Light / Stirring</text>
<text transform="translate(405.72 457) scale(0.9350 1)" font-family="'Liberation Sans', sans-serif" font-size="17.78" font-weight="400">CR1</text>
<text transform="translate(474.3 457) scale(0.9574 1)" font-family="'Liberation Sans', sans-serif" font-size="17.78" font-weight="400">CRO1</text>
<text transform="translate(557.13 457) scale(1.0565 1)" font-family="'Liberation Sans', sans-serif" font-size="17.78" font-weight="400">Benavila</text>
<text transform="translate(497.08 506.3) scale(1.0106 1)" font-family="'Liberation Serif', serif" font-size="41.96" font-weight="400">(a)</text>
<text transform="translate(988.7 369.7) scale(1.0232 1)" font-family="'Liberation Sans', sans-serif" font-size="19.34" font-weight="700">0</text>
<text transform="translate(977.69 304.89) scale(1.0232 1)" font-family="'Liberation Sans', sans-serif" font-size="19.34" font-weight="700">50</text>
<text transform="translate(966.68 240.08) scale(1.0232 1)" font-family="'Liberation Sans', sans-serif" font-size="19.34" font-weight="700">100</text>
<text transform="translate(966.68 175.27) scale(1.0232 1)" font-family="'Liberation Sans', sans-serif" font-size="19.34" font-weight="700">150</text>
<text transform="translate(966.68 110.46) scale(1.0232 1)" font-family="'Liberation Sans', sans-serif" font-size="19.34" font-weight="700">200</text>
<text transform="translate(966.68 45.65) scale(1.0232 1)" font-family="'Liberation Sans', sans-serif" font-size="19.34" font-weight="700">250</text>
<text transform="translate(977.95 13.5) scale(1.0521 1)" font-family="'Liberation Sans', sans-serif" font-size="20.52" font-weight="700">ppm</text>
<text transform="translate(1031.19 397) scale(0.9338 1)" font-family="'Liberation Sans', sans-serif" font-size="18.63" font-weight="700">Br</text>
<text transform="translate(1074.8 397) scale(0.9047 1)" font-family="'Liberation Sans', sans-serif" font-size="18.63" font-weight="700">Ce</text>
<text transform="translate(1118.86 397) scale(0.8966 1)" font-family="'Liberation Sans', sans-serif" font-size="18.63" font-weight="700">Co</text>
<text transform="translate(1164.55 397) scale(0.8274 1)" font-family="'Liberation Sans', sans-serif" font-size="18.63" font-weight="700">Cs</text>
<text transform="translate(1207.55 397) scale(0.9193 1)" font-family="'Liberation Sans', sans-serif" font-size="18.63" font-weight="700">Cu</text>
<text transform="translate(1251.1 397) scale(0.9348 1)" font-family="'Liberation Sans', sans-serif" font-size="18.63" font-weight="700">Ga</text>
<text transform="translate(1291.77 397) scale(1.1382 1)" font-family="'Liberation Sans', sans-serif" font-size="18.63" font-weight="700">Mo</text>
<text transform="translate(1338.75 397) scale(1.0234 1)" font-family="'Liberation Sans', sans-serif" font-size="18.63" font-weight="700">Nb</text>
<text transform="translate(1386.33 397) scale(1.0449 1)" font-family="'Liberation Sans', sans-serif" font-size="18.63" font-weight="700">Ni</text>
<text transform="translate(1428.84 397) scale(0.9531 1)" font-family="'Liberation Sans', sans-serif" font-size="18.63" font-weight="700">Pb</text>
<text transform="translate(1472.97 397) scale(0.9323 1)" font-family="'Liberation Sans', sans-serif" font-size="18.63" font-weight="700">Rb</text>
<text transform="translate(1519.46 397) scale(0.8578 1)" font-family="'Liberation Sans', sans-serif" font-size="18.63" font-weight="700">Sc</text>
<text transform="translate(1562.94 397) scale(0.9109 1)" font-family="'Liberation Sans', sans-serif" font-size="18.63" font-weight="700">Sn</text>
<text transform="translate(1608.95 397) scale(0.9047 1)" font-family="'Liberation Sans', sans-serif" font-size="18.63" font-weight="700">Sr</text>
<text transform="translate(1655.37 397) scale(1.0215 1)" font-family="'Liberation Sans', sans-serif" font-size="18.63" font-weight="400" stroke="#000" stroke-width="0.9" stroke-linejoin="round">U</text>
<text transform="translate(1701.16 397) scale(0.8630 1)" font-family="'Liberation Sans', sans-serif" font-size="18.63" font-weight="400" stroke="#000" stroke-width="0.9" stroke-linejoin="round">Y</text>
<text transform="translate(1742.12 397) scale(0.9911 1)" font-family="'Liberation Sans', sans-serif" font-size="18.63" font-weight="400" stroke="#000" stroke-width="0.9" stroke-linejoin="round">W</text>
<text transform="translate(1784.53 397) scale(1.0092 1)" font-family="'Liberation Sans', sans-serif" font-size="18.63" font-weight="400" stroke="#000" stroke-width="0.9" stroke-linejoin="round">Zn</text>
<text transform="translate(1830.48 397) scale(1.0111 1)" font-family="'Liberation Sans', sans-serif" font-size="18.63" font-weight="400" stroke="#000" stroke-width="0.9" stroke-linejoin="round">Zr</text>
<text transform="translate(1565.52 133.5) scale(0.9521 1)" font-family="'Liberation Sans', sans-serif" font-size="21.9" font-weight="400">90  days</text>
<text transform="translate(1520.45 162.3) scale(1.0245 1)" font-family="'Liberation Sans', sans-serif" font-size="21.9" font-weight="400">Light / No stirring</text>
<text transform="translate(1283.43 444.5) scale(0.9291 1)" font-family="'Liberation Sans', sans-serif" font-size="17.78" font-weight="400">CR2</text>
<text transform="translate(1352 444.5) scale(0.9637 1)" font-family="'Liberation Sans', sans-serif" font-size="17.78" font-weight="400">CRO2</text>
<text transform="translate(1434.73 444.5) scale(1.0580 1)" font-family="'Liberation Sans', sans-serif" font-size="17.78" font-weight="400">Benavila</text>
<text transform="translate(1441.29 506.1) scale(1.0001 1)" font-family="'Liberation Serif', serif" font-size="41.96" font-weight="400">(b)</text>
<text transform="translate(36.75 924.4) scale(1.0232 1)" font-family="'Liberation Sans', sans-serif" font-size="19.34" font-weight="700">0</text>
<text transform="translate(25.74 859.65) scale(1.0232 1)" font-family="'Liberation Sans', sans-serif" font-size="19.34" font-weight="700">50</text>
<text transform="translate(14.73 794.9) scale(1.0232 1)" font-family="'Liberation Sans', sans-serif" font-size="19.34" font-weight="700">100</text>
<text transform="translate(14.73 730.15) scale(1.0232 1)" font-family="'Liberation Sans', sans-serif" font-size="19.34" font-weight="700">150</text>
<text transform="translate(14.73 665.4) scale(1.0232 1)" font-family="'Liberation Sans', sans-serif" font-size="19.34" font-weight="700">200</text>
<text transform="translate(14.73 600.65) scale(1.0232 1)" font-family="'Liberation Sans', sans-serif" font-size="19.34" font-weight="700">250</text>
<text transform="translate(0.05 567.5) scale(1.0546 1)" font-family="'Liberation Sans', sans-serif" font-size="20.52" font-weight="700">ppm</text>
<text transform="translate(79.41 952.3) scale(0.9338 1)" font-family="'Liberation Sans', sans-serif" font-size="18.63" font-weight="700">Br</text>
<text transform="translate(123.38 952.3) scale(0.9047 1)" font-family="'Liberation Sans', sans-serif" font-size="18.63" font-weight="700">Ce</text>
<text transform="translate(167.78 952.3) scale(0.8966 1)" font-family="'Liberation Sans', sans-serif" font-size="18.63" font-weight="700">Co</text>
<text transform="translate(213.83 952.3) scale(0.8274 1)" font-family="'Liberation Sans', sans-serif" font-size="18.63" font-weight="700">Cs</text>
<text transform="translate(257.18 952.3) scale(0.9193 1)" font-family="'Liberation Sans', sans-serif" font-size="18.63" font-weight="700">Cu</text>
<text transform="translate(301.07 952.3) scale(0.9348 1)" font-family="'Liberation Sans', sans-serif" font-size="18.63" font-weight="700">Ga</text>
<text transform="translate(342.09 952.3) scale(1.1382 1)" font-family="'Liberation Sans', sans-serif" font-size="18.63" font-weight="700">Mo</text>
<text transform="translate(389.43 952.3) scale(1.0234 1)" font-family="'Liberation Sans', sans-serif" font-size="18.63" font-weight="700">Nb</text>
<text transform="translate(437.36 952.3) scale(1.0449 1)" font-family="'Liberation Sans', sans-serif" font-size="18.63" font-weight="700">Ni</text>
<text transform="translate(480.22 952.3) scale(0.9531 1)" font-family="'Liberation Sans', sans-serif" font-size="18.63" font-weight="700">Pb</text>
<text transform="translate(524.69 952.3) scale(0.9323 1)" font-family="'Liberation Sans', sans-serif" font-size="18.63" font-weight="700">Rb</text>
<text transform="translate(571.53 952.3) scale(0.8578 1)" font-family="'Liberation Sans', sans-serif" font-size="18.63" font-weight="700">Sc</text>
<text transform="translate(615.37 952.3) scale(0.9109 1)" font-family="'Liberation Sans', sans-serif" font-size="18.63" font-weight="700">Sn</text>
<text transform="translate(661.72 952.3) scale(0.9047 1)" font-family="'Liberation Sans', sans-serif" font-size="18.63" font-weight="700">Sr</text>
<text transform="translate(708.5 952.3) scale(1.0215 1)" font-family="'Liberation Sans', sans-serif" font-size="18.63" font-weight="400" stroke="#000" stroke-width="0.9" stroke-linejoin="round">U</text>
<text transform="translate(754.64 952.3) scale(0.8630 1)" font-family="'Liberation Sans', sans-serif" font-size="18.63" font-weight="400" stroke="#000" stroke-width="0.9" stroke-linejoin="round">Y</text>
<text transform="translate(795.94 952.3) scale(0.9911 1)" font-family="'Liberation Sans', sans-serif" font-size="18.63" font-weight="400" stroke="#000" stroke-width="0.9" stroke-linejoin="round">W</text>
<text transform="translate(838.71 952.3) scale(1.0092 1)" font-family="'Liberation Sans', sans-serif" font-size="18.63" font-weight="400" stroke="#000" stroke-width="0.9" stroke-linejoin="round">Zn</text>
<text transform="translate(885.01 952.3) scale(1.0111 1)" font-family="'Liberation Sans', sans-serif" font-size="18.63" font-weight="400" stroke="#000" stroke-width="0.9" stroke-linejoin="round">Zr</text>
<text transform="translate(669.42 670.2) scale(0.9533 1)" font-family="'Liberation Sans', sans-serif" font-size="21.9" font-weight="400">90  days</text>
<text transform="translate(625.13 699.2) scale(1.0324 1)" font-family="'Liberation Sans', sans-serif" font-size="21.9" font-weight="400">No light / Stirring</text>
<text transform="translate(305.22 1000.6) scale(0.9379 1)" font-family="'Liberation Sans', sans-serif" font-size="17.78" font-weight="400">CR3</text>
<text transform="translate(381.5 1000.6) scale(0.9637 1)" font-family="'Liberation Sans', sans-serif" font-size="17.78" font-weight="400">CRO3</text>
<text transform="translate(471.23 1000.6) scale(1.0580 1)" font-family="'Liberation Sans', sans-serif" font-size="17.78" font-weight="400">Benavila</text>
<text transform="translate(497.29 1053.8) scale(1.0014 1)" font-family="'Liberation Serif', serif" font-size="41.96" font-weight="400">(c)</text>
<text transform="translate(997.1 924.9) scale(1.0232 1)" font-family="'Liberation Sans', sans-serif" font-size="19.34" font-weight="700">0</text>
<text transform="translate(986.09 859.61) scale(1.0232 1)" font-family="'Liberation Sans', sans-serif" font-size="19.34" font-weight="700">50</text>
<text transform="translate(975.08 794.33) scale(1.0232 1)" font-family="'Liberation Sans', sans-serif" font-size="19.34" font-weight="700">100</text>
<text transform="translate(975.08 729.04) scale(1.0232 1)" font-family="'Liberation Sans', sans-serif" font-size="19.34" font-weight="700">150</text>
<text transform="translate(975.08 663.76) scale(1.0232 1)" font-family="'Liberation Sans', sans-serif" font-size="19.34" font-weight="700">200</text>
<text transform="translate(975.08 598.47) scale(1.0232 1)" font-family="'Liberation Sans', sans-serif" font-size="19.34" font-weight="700">250</text>
<text transform="translate(964.75 563.6) scale(1.0546 1)" font-family="'Liberation Sans', sans-serif" font-size="20.52" font-weight="700">ppm</text>
<text transform="translate(1037.58 952.3) scale(0.9338 1)" font-family="'Liberation Sans', sans-serif" font-size="18.63" font-weight="700">Br</text>
<text transform="translate(1077.17 952.3) scale(0.9047 1)" font-family="'Liberation Sans', sans-serif" font-size="18.63" font-weight="700">Ce</text>
<text transform="translate(1117.21 952.3) scale(0.8966 1)" font-family="'Liberation Sans', sans-serif" font-size="18.63" font-weight="700">Co</text>
<text transform="translate(1158.88 952.3) scale(0.8274 1)" font-family="'Liberation Sans', sans-serif" font-size="18.63" font-weight="700">Cs</text>
<text transform="translate(1197.86 952.3) scale(0.9193 1)" font-family="'Liberation Sans', sans-serif" font-size="18.63" font-weight="700">Cu</text>
<text transform="translate(1237.38 952.3) scale(0.9348 1)" font-family="'Liberation Sans', sans-serif" font-size="18.63" font-weight="700">Ga</text>
<text transform="translate(1274.03 952.3) scale(1.1382 1)" font-family="'Liberation Sans', sans-serif" font-size="18.63" font-weight="700">Mo</text>
<text transform="translate(1317 952.3) scale(1.0234 1)" font-family="'Liberation Sans', sans-serif" font-size="18.63" font-weight="700">Nb</text>
<text transform="translate(1360.55 952.3) scale(1.0449 1)" font-family="'Liberation Sans', sans-serif" font-size="18.63" font-weight="700">Ni</text>
<text transform="translate(1399.04 952.3) scale(0.9531 1)" font-family="'Liberation Sans', sans-serif" font-size="18.63" font-weight="700">Pb</text>
<text transform="translate(1439.15 952.3) scale(0.9323 1)" font-family="'Liberation Sans', sans-serif" font-size="18.63" font-weight="700">Rb</text>
<text transform="translate(1481.61 952.3) scale(0.8578 1)" font-family="'Liberation Sans', sans-serif" font-size="18.63" font-weight="700">Sc</text>
<text transform="translate(1521.08 952.3) scale(0.9109 1)" font-family="'Liberation Sans', sans-serif" font-size="18.63" font-weight="700">Sn</text>
<text transform="translate(1563.06 952.3) scale(0.9047 1)" font-family="'Liberation Sans', sans-serif" font-size="18.63" font-weight="700">Sr</text>
<text transform="translate(1605.47 952.3) scale(1.0215 1)" font-family="'Liberation Sans', sans-serif" font-size="18.63" font-weight="400" stroke="#000" stroke-width="0.9" stroke-linejoin="round">U</text>
<text transform="translate(1647.24 952.3) scale(0.8630 1)" font-family="'Liberation Sans', sans-serif" font-size="18.63" font-weight="400" stroke="#000" stroke-width="0.9" stroke-linejoin="round">Y</text>
<text transform="translate(1684.17 952.3) scale(0.9911 1)" font-family="'Liberation Sans', sans-serif" font-size="18.63" font-weight="400" stroke="#000" stroke-width="0.9" stroke-linejoin="round">W</text>
<text transform="translate(1722.57 952.3) scale(1.0092 1)" font-family="'Liberation Sans', sans-serif" font-size="18.63" font-weight="400" stroke="#000" stroke-width="0.9" stroke-linejoin="round">Zn</text>
<text transform="translate(1764.5 952.3) scale(1.0111 1)" font-family="'Liberation Sans', sans-serif" font-size="18.63" font-weight="400" stroke="#000" stroke-width="0.9" stroke-linejoin="round">Zr</text>
<text transform="translate(1580.12 674.9) scale(0.9558 1)" font-family="'Liberation Sans', sans-serif" font-size="21.9" font-weight="400">90  days</text>
<text transform="translate(1519.25 704.2) scale(1.0226 1)" font-family="'Liberation Sans', sans-serif" font-size="21.9" font-weight="400">No light / No Stirring</text>
<text transform="translate(1237.02 1002.1) scale(0.9333 1)" font-family="'Liberation Sans', sans-serif" font-size="17.78" font-weight="400">CR4</text>
<text transform="translate(1305.79 1002.1) scale(0.9664 1)" font-family="'Liberation Sans', sans-serif" font-size="17.78" font-weight="400">CRO4</text>
<text transform="translate(1388.02 1002.1) scale(1.0655 1)" font-family="'Liberation Sans', sans-serif" font-size="17.78" font-weight="400">Benavila</text>
<text transform="translate(1441.5 1054.2) scale(0.9936 1)" font-family="'Liberation Serif', serif" font-size="41.96" font-weight="400">(d)</text>
</svg>
</body>
</html>
